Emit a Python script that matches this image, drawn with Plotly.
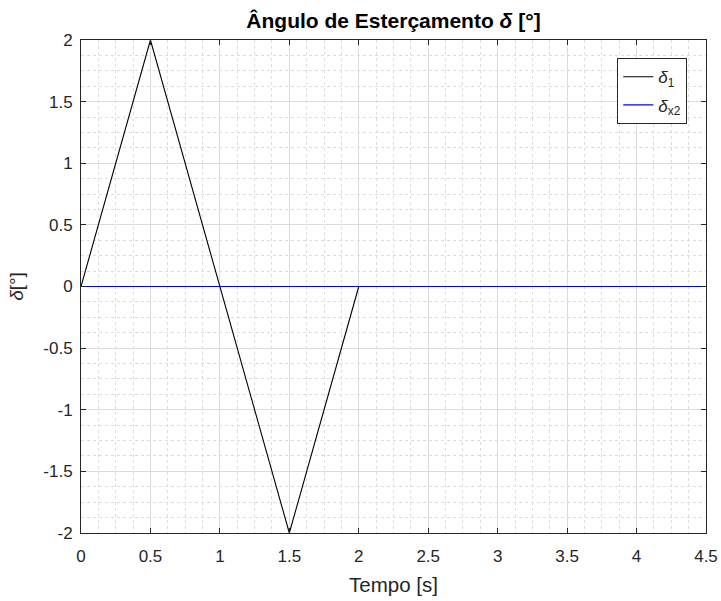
import plotly.graph_objects as go

t1 = [0, 0.5, 1.5, 2]
d1 = [0, 2, -2, 0]
t2 = [0, 4.5]
d2 = [0, 0]

xticks = [0, 0.5, 1, 1.5, 2, 2.5, 3, 3.5, 4, 4.5]
yticks = [-2, -1.5, -1, -0.5, 0, 0.5, 1, 1.5, 2]

FONT = "Liberation Sans, Arial, sans-serif"

fig = go.Figure()
fig.add_trace(go.Scatter(x=t1, y=d1, mode="lines", name="<i>δ</i><sub>1</sub>",
                         legendgroup="a", line=dict(color="black", width=1.1)))
fig.add_trace(go.Scatter(x=t2, y=d2, mode="lines", name="<i>δ</i><sub>x2</sub>",
                         legendgroup="b", line=dict(color="#0000ff", width=1.1)))

axcommon = dict(
    showline=True, linecolor="#262626", linewidth=1, mirror="ticks",
    ticks="inside", ticklen=5, tickcolor="#262626", tickwidth=1,
    showgrid=True, gridcolor="#dcdcdc", gridwidth=1,
    zeroline=False, automargin=False,
    tickfont=dict(family=FONT, size=17, color="#262626"),
)

fig.update_xaxes(range=[0, 4.5], tickvals=xticks, ticktext=[str(v) for v in xticks],
                 ticklabelstandoff=8,
                 minor=dict(dtick=0.125, tick0=0, showgrid=True, griddash="dot",
                            gridcolor="#dddddd", ticks=""),
                 title=dict(text="Tempo [s]", font=dict(family=FONT, size=20.5, color="#262626"), standoff=12),
                 **axcommon)
fig.update_yaxes(range=[-2, 2], tickvals=yticks, ticktext=[str(v) for v in yticks],
                 ticklabelstandoff=4,
                 minor=dict(dtick=0.125, tick0=0, showgrid=True, griddash="dot",
                            gridcolor="#dddddd", ticks=""),
                 title=dict(text="<i>δ</i>[°]", font=dict(family=FONT, size=19, color="#262626"), standoff=14),
                 **axcommon)

fig.update_layout(
    width=721, height=601,
    margin=dict(l=81, r=15, t=40, b=68),
    paper_bgcolor="white", plot_bgcolor="white",
    title=dict(text="<b>Ângulo de Esterçamento <i>δ</i> [°]</b>", x=0.5, xanchor="center",
               xref="paper", y=1 - 21/601, yanchor="middle",
               font=dict(family=FONT, size=21, color="black")),
    legend=dict(x=0.97, y=0.963, xanchor="right", yanchor="top",
                bgcolor="white", bordercolor="#262626", borderwidth=1,
                tracegroupgap=3,
                font=dict(family=FONT, size=17, color="#262626")),
    showlegend=True,
)

fig.write_html("out.html", config={"displayModeBar": False},
               post_script="document.body.style.margin='0';document.body.style.overflow='hidden';")
